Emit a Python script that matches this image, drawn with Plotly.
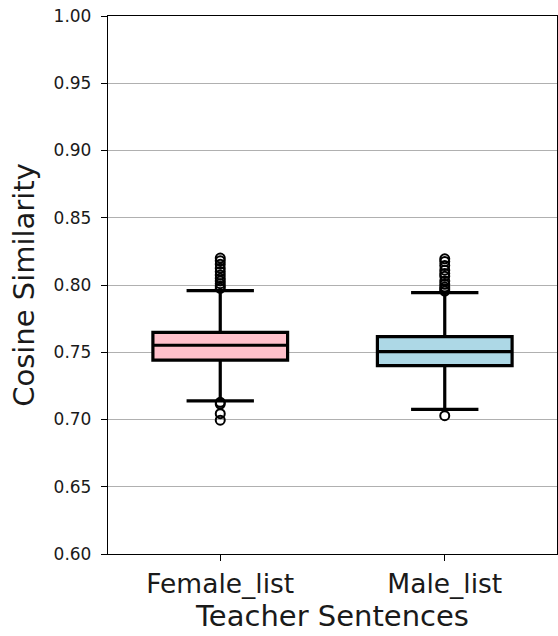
import plotly.graph_objects as go

# Box-plot summary statistics per sentence list
categories = ["Female_list", "Male_list"]
positions = [1, 2]
q1 = [0.7441, 0.7400]
median = [0.7552, 0.7504]
q3 = [0.7648, 0.7616]
lower_whisker = [0.7138, 0.7076]
upper_whisker = [0.7958, 0.7943]
box_colors = ["pink", "lightblue"]

# Points beyond the whiskers
female_outliers = [0.8200, 0.8180, 0.8155, 0.8125, 0.8100, 0.8075, 0.8050,
                   0.8030, 0.8010, 0.7990, 0.7975, 0.7128, 0.7115, 0.7043, 0.6995]
male_outliers = [0.8195, 0.8175, 0.8145, 0.8110, 0.8085, 0.8065, 0.8030,
                 0.8005, 0.7985, 0.7970, 0.7955, 0.7028]
outliers = [female_outliers, male_outliers]

yticks = [0.60, 0.65, 0.70, 0.75, 0.80, 0.85, 0.90, 0.95, 1.00]

FONT = "DejaVu Sans"
TEXT = "#1a1a1a"

fig = go.Figure()
for i, name in enumerate(categories):
    fig.add_trace(go.Box(
        x=[positions[i]],
        q1=[q1[i]], median=[median[i]], q3=[q3[i]],
        lowerfence=[lower_whisker[i]], upperfence=[upper_whisker[i]],
        width=0.6, whiskerwidth=0.5,
        fillcolor=box_colors[i],
        line=dict(color="black", width=3.2),
        boxpoints=False, name=name, showlegend=False,
    ))
    fig.add_trace(go.Scatter(
        x=[positions[i]] * len(outliers[i]), y=outliers[i],
        mode="markers",
        marker=dict(symbol="circle-open", size=9, color="black",
                    line=dict(width=2, color="black")),
        showlegend=False, hoverinfo="y",
    ))

fig.update_layout(
    width=558, height=636,
    margin=dict(l=108, r=1, t=16, b=82),
    plot_bgcolor="white", paper_bgcolor="white",
    font=dict(family=FONT, color=TEXT),
)
fig.update_xaxes(
    range=[0.5, 2.5],
    tickmode="array", tickvals=positions, ticktext=categories,
    tickfont=dict(size=26.5, family=FONT, color=TEXT),
    ticks="outside", ticklen=6, tickwidth=1.2, tickcolor="black",
    showline=True, linecolor="black", linewidth=1.3, mirror=True,
    showgrid=False, zeroline=False,
    title=dict(text="Teacher Sentences", font=dict(size=29, family=FONT, color=TEXT), standoff=6),
)
fig.update_yaxes(
    range=[0.6, 1.0],
    tickmode="array", tickvals=yticks, ticktext=[f"{v:.2f}" for v in yticks],
    tickfont=dict(size=17, family=FONT, color=TEXT),
    ticks="outside", ticklen=6, tickwidth=1.2, tickcolor="black",
    ticklabelstandoff=6,
    showline=True, linecolor="black", linewidth=1.3, mirror=True,
    showgrid=True, gridcolor="#b0b0b0", gridwidth=1, zeroline=False,
    title=dict(text="Cosine Similarity", font=dict(size=29, family=FONT, color=TEXT), standoff=10),
)

fig.write_html("out.html")
